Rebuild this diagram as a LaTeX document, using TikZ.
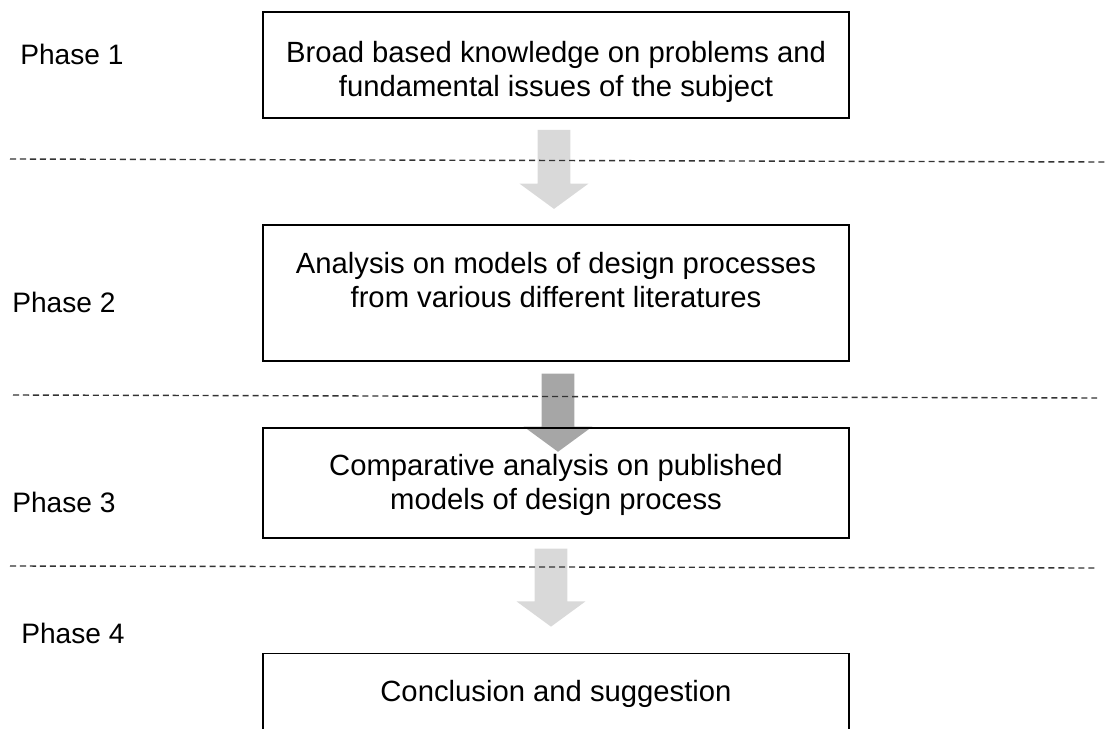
\documentclass[tikz,border=0pt]{standalone}
\usepackage{fontspec}
\setmainfont[Ligatures=NoCommon]{Liberation Sans}
\usetikzlibrary{positioning,calc}
\pgfdeclarelayer{back}
\pgfsetlayers{back,main}

\tikzset{
  stagebox/.style={draw, line width=1.3pt, minimum width=14.65cm, inner sep=0pt},
  stagetext/.style={font=\fontsize{20.8}{24}\selectfont, align=center, inner sep=0pt, anchor=north},
  phaselabel/.style={font=\fontsize{20}{24}\selectfont, inner sep=0pt, anchor=base west},
  phaseline/.style={dash pattern=on 4.3pt off 2.8pt, line width=1pt, black!80}
}

\begin{document}
\begin{tikzpicture}[x=0.025cm, y=-0.025cm]
\useasboundingbox (0,0) rectangle (1105,729);
\clip (0,0) rectangle (1105,729);

% the four stages
\node[stagebox, anchor=north west, minimum height=2.65cm] (broad) at (262,11) {};
\node[stagebox, below=2.625cm of broad, minimum height=3.4cm] (analysis) {};
\node[stagebox, below=1.625cm of analysis, minimum height=2.75cm] (compare) {};
\node[stagebox, below=2.85cm of compare, minimum height=3cm] (conclusion) {};

\node[stagetext, below=0.75cm of broad.north] (broad text)
  {Broad based knowledge on problems and\\fundamental issues of the subject};
\node[stagetext, below=0.7cm of analysis.north] (analysis text)
  {Analysis on models of design processes\\from various different literatures};
\node[stagetext, below=0.68cm of compare.north] (compare text)
  {Comparative analysis on published\\models of design process};
\node[stagetext, below=0.68cm of conclusion.north] (conclusion text)
  {Conclusion and suggestion};

% phase names on the left
\node[phaselabel] (phase1) at (20,65) {Phase 1};
\node[phaselabel] (phase2) at (12,312) {Phase 2};
\node[phaselabel] (phase3) at (12,512) {Phase 3};
\node[phaselabel] (phase4) at (21,643) {Phase 4};

% borders between phases
\draw[phaseline] (10,159) -- (1105,162);
\draw[phaseline] (13,395) -- (1097,398);
\draw[phaseline] (10,566) -- (1097,568);

% block arrows between stages
\coordinate (a1 start) at ($(broad.south)+(-2,11)$);
\coordinate (a1 tip) at ($(analysis.north)+(-2,-15)$);
\coordinate (a2 start) at ($(analysis.south)+(2,12)$);
\coordinate (a2 tip) at ($(compare.north)+(2,25)$);
\coordinate (a3 start) at ($(compare.south)+(-5,10)$);
\coordinate (a3 tip) at ($(conclusion.north)+(-5,-26)$);

\begin{pgfonlayer}{back}
\foreach \start/\tip/\tone in {a1 start/a1 tip/gray!30, a2 start/a2 tip/gray!70, a3 start/a3 tip/gray!30}
  \fill[\tone] let \p1=(\start), \p2=(\tip) in
    (\x1-0.41cm,\y1) -- (\x1+0.41cm,\y1) -- (\x1+0.41cm,\y2+0.63cm) -- (\x1+0.86cm,\y2+0.63cm)
    -- (\x1,\y2) -- (\x1-0.86cm,\y2+0.63cm) -- (\x1-0.41cm,\y2+0.63cm) -- cycle;
\end{pgfonlayer}
\end{tikzpicture}
\end{document}
